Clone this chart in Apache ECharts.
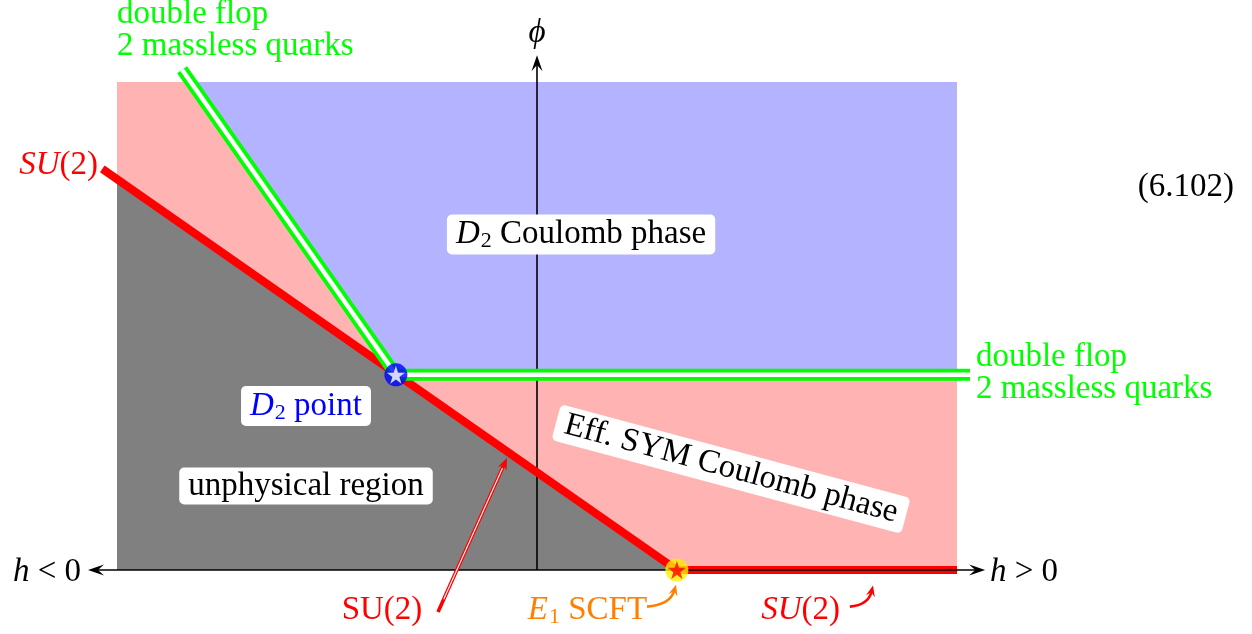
<!DOCTYPE html>
<html>
<head>
<meta charset="utf-8">
<script src="https://cdn.jsdelivr.net/npm/echarts@6/dist/echarts.min.js"></script>
<style>
  html, body { margin: 0; padding: 0; background: #ffffff; }
  #chart { width: 1252px; height: 634px; }
</style>
</head>
<body>
<div id="chart"></div>
<script>
// Phase diagram in the (h, phi) plane.
const hRange = [-1, 1];
const phiRange = [0, 1];

// Phase regions (polygons in h, phi)
const pinkRegion = [[-1, 0], [1, 0], [1, 1], [-1, 1]];
const blueRegion = [[-0.833, 1], [1, 1], [1, 0.40], [-0.336, 0.40]];
const grayRegion = [[-1, 0], [-1, 0.80], [0.333, 0]];

// Phase boundaries
const su2Line = [[-1.035, 0.822], [0.333, 0]];
const su2AxisLine = [[0.333, 0], [1, 0]];
const flopLine = [[-0.845, 1.025], [-0.336, 0.40], [1.031, 0.40]];

// Special points
const d2Point = [-0.336, 0.40];
const e1Point = [0.333, 0];

// Coordinate axes (arrow ends)
const hAxisEnds = [[-1.069, 0], [1.067, 0]];
const phiAxisEnds = [[0, 0], [0, 1.055]];

// Annotation pointers: [from, to]
const su2Pointer = [[-0.2357, -0.086], [-0.0714, 0.2295]];
const e1Pointer = [[0.262, -0.075], [0.331, -0.030]];
const su2AxisPointer = [[0.745, -0.075], [0.800, -0.032]];

// Text labels
const labelTexts = {
  coulomb: '{i|D}{s|2}{n| Coulomb phase}',
  d2: '{i|D}{s|2}{n| point}',
  unphys: '{n|unphysical region}',
  eff: '{n|Eff. SYM Coulomb phase}',
  eq: '{n|(6.102)}',
  phi: '{i|ϕ}',
  hNeg: '{i|h}{n| < 0}',
  hPos: '{i|h}{n| > 0}',
  su2Top: '{i|SU}{n|(2)}',
  flop: 'double flop\n2 massless quarks',
  su2Roman: '{n|SU(2)}',
  e1: '{i|E}{s|1}{n| SCFT}',
  su2Axis: '{i|SU}{n|(2)}'
};

const FAMILY = '"Liberation Serif", "DejaVu Serif", serif';
const FS = 33;
const RED = '#ff0000', GREEN = '#00ff00', ORANGE = '#ff8000', BLUE = '#0000ff';

// label layout: anchor in (h, phi), alignment, colour, boxed?, rotation (deg)
const labelLayout = [
  { key: 'coulomb', at: [0.105, 0.6875], align: 'center', color: '#000', box: true },
  { key: 'd2', at: [-0.55, 0.336], align: 'center', color: BLUE, box: true },
  { key: 'unphys', at: [-0.55, 0.172], align: 'center', color: '#000', box: true },
  { key: 'eff', at: [0.462, 0.207], align: 'center', color: '#000', box: true, rotate: -15 },
  { key: 'eq', at: [1.545, 0.785], align: 'center', color: '#000' },
  { key: 'phi', at: [0, 1.100], align: 'center', color: '#000' },
  { key: 'hNeg', at: [-1.0857, -0.005], align: 'right', color: '#000' },
  { key: 'hPos', at: [1.0786, -0.005], align: 'left', color: '#000' },
  { key: 'su2Top', at: [-1.0452, 0.83], align: 'right', color: RED },
  { key: 'flop', at: [-1.0, 1.1066], align: 'left', color: GREEN, plain: true },
  { key: 'flop', at: [1.045, 0.404], align: 'left', color: GREEN, plain: true },
  { key: 'su2Roman', at: [-0.369, -0.082], align: 'center', color: RED },
  { key: 'e1', at: [0.262, -0.082], align: 'right', color: ORANGE },
  { key: 'su2Axis', at: [0.7214, -0.082], align: 'right', color: RED }
];

const STAR_PATH = 'path://M50,0 L61.8,35.4 L99,35.4 L69.1,57.3 L80.3,92.7 L50,70.9 L19.7,92.7 L30.9,57.3 L1,35.4 L38.2,35.4 Z';

function fontOf(size, italic) {
  return (italic ? 'italic ' : '') + size + 'px ' + FAMILY;
}

function richFor(color) {
  return {
    n: { font: fontOf(FS, false), fill: color },
    i: { font: fontOf(FS, true), fill: color },
    s: { font: fontOf(22, false), fill: color, padding: [14, 0, 0, 1] }
  };
}

function polySeries(points, color, z) {
  return {
    type: 'custom', coordinateSystem: 'cartesian2d', z: z, silent: true, clip: false,
    data: [0],
    renderItem: function (params, api) {
      return { type: 'polygon', shape: { points: points.map(function (p) { return api.coord(p); }) }, style: { fill: color } };
    }
  };
}

// open polyline through the given (h, phi) points, butt ends
function pathSeries(points, color, width, z) {
  return {
    type: 'custom', coordinateSystem: 'cartesian2d', z: z, silent: true, clip: false,
    data: [0],
    renderItem: function (params, api) {
      return {
        type: 'polyline',
        shape: { points: points.map(function (p) { return api.coord(p); }) },
        style: { stroke: color, lineWidth: width, fill: null, lineCap: 'butt', lineJoin: 'miter', miterLimit: 10 }
      };
    }
  };
}

// stealth arrow head pointing along dir with its tip at tip
function stealth(tip, dir, len, half, color) {
  const n = Math.hypot(dir[0], dir[1]);
  const ux = dir[0] / n, uy = dir[1] / n, nx = -uy, ny = ux;
  const bx = tip[0] - ux * len, by = tip[1] - uy * len;
  const mx = tip[0] - ux * len * 0.62, my = tip[1] - uy * len * 0.62;
  return {
    type: 'polygon',
    shape: { points: [tip, [bx + nx * half, by + ny * half], [mx, my], [bx - nx * half, by - ny * half]] },
    style: { fill: color }
  };
}

function hAxisRender(params, api) {
  const a = api.coord(hAxisEnds[0]), b = api.coord(hAxisEnds[1]);
  return {
    type: 'group',
    children: [
      { type: 'line', shape: { x1: a[0] + 6, y1: a[1], x2: b[0] - 6, y2: b[1] }, style: { stroke: '#000', lineWidth: 1.6 } },
      stealth(a, [-1, 0], 16, 5.5, '#000'),
      stealth(b, [1, 0], 16, 5.5, '#000')
    ]
  };
}

function phiAxisRender(params, api) {
  const c = api.coord(phiAxisEnds[0]), d = api.coord(phiAxisEnds[1]);
  return {
    type: 'group',
    children: [
      { type: 'line', shape: { x1: c[0], y1: c[1], x2: d[0], y2: d[1] + 6 }, style: { stroke: '#000', lineWidth: 1.6 } },
      stealth(d, [0, -1], 16, 5.5, '#000')
    ]
  };
}

function doublePointerRender(params, api) {
  const p = api.coord(su2Pointer[0]), q = api.coord(su2Pointer[1]);
  const dir = [q[0] - p[0], q[1] - p[1]];
  const n = Math.hypot(dir[0], dir[1]);
  const ux = dir[0] / n, uy = dir[1] / n;
  const e = [q[0] - ux * 8, q[1] - uy * 8];
  const w = [q[0] - ux * 11, q[1] - uy * 11];
  return {
    type: 'group',
    children: [
      { type: 'line', shape: { x1: p[0], y1: p[1], x2: e[0], y2: e[1] }, style: { stroke: RED, lineWidth: 3.6 } },
      { type: 'line', shape: { x1: p[0] + ux * 14, y1: p[1] + uy * 14, x2: w[0], y2: w[1] }, style: { stroke: '#ffffff', lineWidth: 1.1 } },
      stealth(q, dir, 12, 4.8, RED)
    ]
  };
}

function curvedPointer(pair, color) {
  return function (params, api) {
    const p = api.coord(pair[0]), q = api.coord(pair[1]);
    const cp = [p[0] + 0.8 * (q[0] - p[0]), p[1] + 0.08 * (q[1] - p[1])];
    const dir = [q[0] - cp[0], q[1] - cp[1]];
    const n = Math.hypot(dir[0], dir[1]);
    const e = [q[0] - dir[0] / n * 6, q[1] - dir[1] / n * 6];
    return {
      type: 'group',
      children: [
        { type: 'bezierCurve', shape: { x1: p[0], y1: p[1], x2: e[0], y2: e[1], cpx1: cp[0], cpy1: cp[1] },
          style: { stroke: color, lineWidth: 2.6, fill: null } },
        stealth(q, dir, 11, 4.6, color)
      ]
    };
  };
}

function labelRender(params, api) {
  const L = labelLayout[params.dataIndex];
  const pt = api.coord(L.at);
  const style = {
    text: labelTexts[L.key],
    align: L.align,
    verticalAlign: 'middle',
    font: fontOf(FS, false),
    fill: L.color
  };
  if (L.plain) {
    style.lineHeight = 32;
  } else {
    style.rich = richFor(L.color);
  }
  if (L.box) {
    style.backgroundColor = '#ffffff';
    style.padding = [2, 9, 2, 9];
    style.borderRadius = 5;
  }
  return {
    type: 'text',
    x: pt[0], y: pt[1],
    rotation: (L.rotate || 0) * Math.PI / 180,
    style: style
  };
}

const chart = echarts.init(document.getElementById('chart'), null, { renderer: 'canvas' });

chart.setOption({
  animation: false,
  backgroundColor: '#ffffff',
  grid: { left: 117, right: 295, top: 82, bottom: 64 },
  xAxis: { type: 'value', min: hRange[0], max: hRange[1], show: false },
  yAxis: { type: 'value', min: phiRange[0], max: phiRange[1], show: false },
  series: [
    polySeries(pinkRegion, '#ffb3b3', 1),
    polySeries(blueRegion, '#b3b3ff', 2),
    polySeries(grayRegion, '#808080', 3),
    { type: 'custom', coordinateSystem: 'cartesian2d', z: 4, silent: true, clip: false, data: [0], renderItem: phiAxisRender },
    pathSeries(su2Line, RED, 8, 5),
    pathSeries(flopLine, GREEN, 12, 6),
    pathSeries(flopLine, '#ffffff', 4.5, 7),
    pathSeries(su2AxisLine, RED, 8, 8),
    { type: 'custom', coordinateSystem: 'cartesian2d', z: 9, silent: true, clip: false, data: [0], renderItem: hAxisRender },
    {
      type: 'scatter', z: 10, silent: true, clip: false,
      data: [d2Point], symbol: 'circle', symbolSize: 23,
      itemStyle: { color: BLUE }
    },
    {
      type: 'scatter', z: 11, silent: true, clip: false,
      data: [d2Point], symbol: STAR_PATH, symbolSize: 18,
      itemStyle: { color: '#ffffff' }
    },
    {
      type: 'scatter', z: 10, silent: true, clip: false,
      data: [e1Point], symbol: 'circle', symbolSize: 23,
      itemStyle: { color: '#ffee00' }
    },
    {
      type: 'scatter', z: 11, silent: true, clip: false,
      data: [e1Point], symbol: STAR_PATH, symbolSize: 18,
      itemStyle: { color: RED }
    },
    { type: 'custom', coordinateSystem: 'cartesian2d', z: 12, silent: true, clip: false, data: [0], renderItem: doublePointerRender },
    { type: 'custom', coordinateSystem: 'cartesian2d', z: 12, silent: true, clip: false, data: [0], renderItem: curvedPointer(e1Pointer, ORANGE) },
    { type: 'custom', coordinateSystem: 'cartesian2d', z: 12, silent: true, clip: false, data: [0], renderItem: curvedPointer(su2AxisPointer, RED) },
    {
      type: 'custom', coordinateSystem: 'cartesian2d', z: 13, silent: true, clip: false,
      data: labelLayout.map(function (l, i) { return i; }),
      renderItem: labelRender
    }
  ]
});
</script>
</body>
</html>
